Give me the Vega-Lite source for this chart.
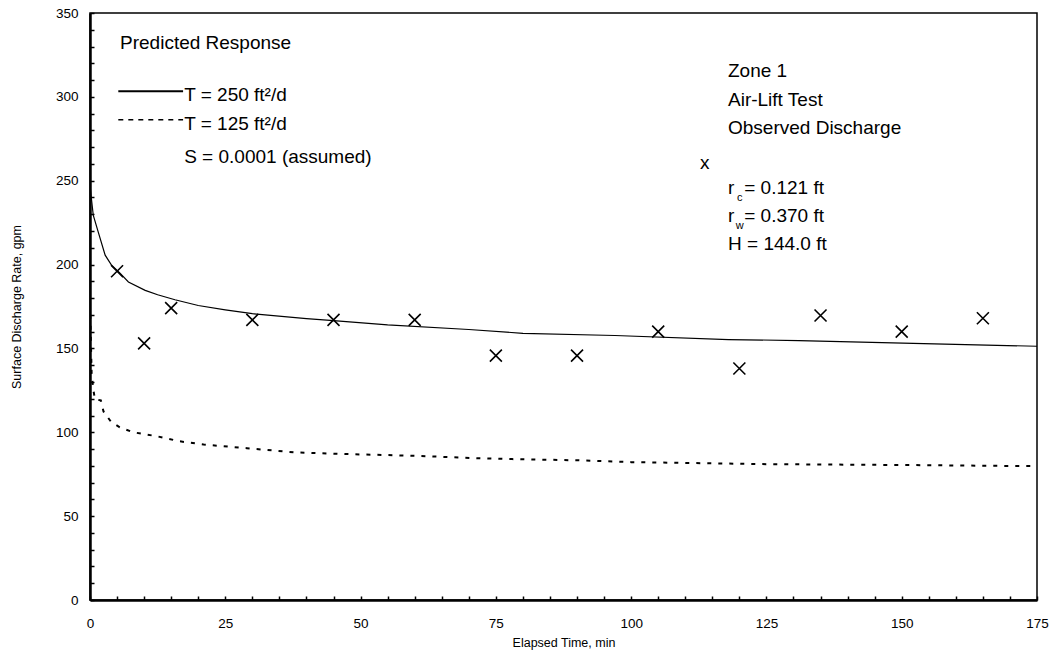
{
  "$schema": "https://vega.github.io/schema/vega-lite/v6.json",
  "width": 947,
  "height": 587,
  "autosize": "none",
  "padding": {"left": 90, "top": 13, "right": 14, "bottom": 63},
  "background": "white",
  "config": {
    "font": "Liberation Sans",
    "view": {"stroke": "black", "strokeWidth": 1.5},
    "axis": {"grid": false, "domainColor": "black", "domainWidth": 2.5, "tickColor": "black", "tickWidth": 1.5, "labelColor": "black", "titleColor": "black", "labelFont": "Liberation Sans", "titleFont": "Liberation Sans", "titleFontWeight": "normal"}
  },
  "datasets": {
    "t250": [
      {"t": 0.05, "q": 246}, {"t": 0.2, "q": 241}, {"t": 0.6, "q": 229.5}, {"t": 1.5, "q": 219.6},
      {"t": 2.8, "q": 205.6}, {"t": 4, "q": 199.6}, {"t": 5.5, "q": 195}, {"t": 7.1, "q": 189.6},
      {"t": 10.2, "q": 184.6}, {"t": 12.5, "q": 182}, {"t": 15.7, "q": 179}, {"t": 20, "q": 175.6},
      {"t": 25, "q": 173}, {"t": 30, "q": 170.7}, {"t": 40, "q": 167.8}, {"t": 45, "q": 166.6},
      {"t": 55, "q": 164}, {"t": 70, "q": 161.3}, {"t": 80, "q": 159}, {"t": 97, "q": 157.7},
      {"t": 118, "q": 155.3}, {"t": 131, "q": 154.7}, {"t": 156, "q": 152.7}, {"t": 175, "q": 151.3}
    ],
    "t125": [
      {"t": 0.05, "q": 170}, {"t": 0.3, "q": 135}, {"t": 0.6, "q": 125.7}, {"t": 0.9, "q": 119.8},
      {"t": 2, "q": 119}, {"t": 2.5, "q": 112.4}, {"t": 3.9, "q": 106.2}, {"t": 5.5, "q": 103},
      {"t": 8, "q": 100}, {"t": 12.4, "q": 97.6}, {"t": 16.6, "q": 94.6}, {"t": 21, "q": 92.7},
      {"t": 29, "q": 90.5}, {"t": 38, "q": 88}, {"t": 47.5, "q": 87}, {"t": 60, "q": 86},
      {"t": 72, "q": 84.5}, {"t": 78, "q": 84}, {"t": 90, "q": 83.3}, {"t": 100, "q": 82.2},
      {"t": 115, "q": 81.5}, {"t": 125, "q": 81}, {"t": 150, "q": 80.5}, {"t": 175, "q": 79.8}
    ],
    "obs": [
      {"t": 5, "q": 196}, {"t": 10, "q": 153}, {"t": 15, "q": 174}, {"t": 30, "q": 167},
      {"t": 45, "q": 167}, {"t": 60, "q": 167}, {"t": 75, "q": 145.7}, {"t": 90, "q": 145.7},
      {"t": 105, "q": 160}, {"t": 120, "q": 138}, {"t": 135, "q": 169.6}, {"t": 150, "q": 160},
      {"t": 165, "q": 168}
    ],
    "labels": [
      {"t": 5.55, "q": 332.3, "label": "Predicted Response"},
      {"t": 17.4, "q": 301.2, "label": "T = 250 ft²/d"},
      {"t": 17.4, "q": 283.8, "label": "T = 125 ft²/d"},
      {"t": 17.4, "q": 264.1, "label": "S = 0.0001 (assumed)"},
      {"t": 117.9, "q": 315.6, "label": "Zone 1"},
      {"t": 117.9, "q": 298.4, "label": "Air-Lift Test"},
      {"t": 117.9, "q": 281.4, "label": "Observed Discharge"},
      {"t": 117.9, "q": 245.5, "label": "r"},
      {"t": 120.9, "q": 245.5, "label": "= 0.121 ft"},
      {"t": 117.9, "q": 228.7, "label": "r"},
      {"t": 120.9, "q": 228.7, "label": "= 0.370 ft"},
      {"t": 117.9, "q": 212, "label": "H = 144.0 ft"}
    ],
    "subs": [
      {"t": 120.05, "q": 239.5, "label": "c"},
      {"t": 120.05, "q": 222.8, "label": "w"}
    ],
    "xmark": [
      {"t": 113.6, "q": 260.5, "label": "x"}
    ],
    "legsolid": [{"t": 5.23, "t2": 17.2, "q": 303.4}],
    "legdash": [{"t": 5.23, "t2": 17.2, "q": 286.4}]
  },
  "encoding": {
    "x": {"field": "t", "type": "quantitative", "scale": {"domain": [0, 175], "nice": false},
      "axis": {"title": "Elapsed Time, min", "titleFontSize": 12.5, "titlePadding": 7, "values": [0,5,10,15,20,25,30,35,40,45,50,55,60,65,70,75,80,85,90,95,100,105,110,115,120,125,130,135,140,145,150,155,160,165,170,175],
        "labelExpr": "datum.value % 25 === 0 ? datum.label : ''", "tickSize": -4, "labelPadding": 20, "labelFontSize": 13.5, "labelFlush": false, "labelOverlap": false}},
    "y": {"field": "q", "type": "quantitative", "scale": {"domain": [0, 350], "nice": false},
      "axis": {"title": "Surface Discharge Rate, gpm", "titleFontSize": 12.5, "titlePadding": 32, "values": [0,10,20,30,40,50,60,70,80,90,100,110,120,130,140,150,160,170,180,190,200,210,220,230,240,250,260,270,280,290,300,310,320,330,340,350],
        "labelExpr": "datum.value % 50 === 0 ? datum.label : ''", "tickSize": -4, "labelPadding": 16, "labelFontSize": 13.5, "labelOverlap": false}}
  },
  "layer": [
    {
      "data": {"name": "t250"},
      "mark": {"type": "line", "color": "black", "strokeWidth": 1.2, "clip": true}
    },
    {
      "data": {"name": "t125"},
      "mark": {"type": "line", "color": "black", "strokeWidth": 2, "strokeDash": [4, 7], "clip": true}
    },
    {
      "data": {"name": "obs"},
      "mark": {"type": "point", "shape": "M-1,-1L1,1M-1,1L1,-1", "size": 144, "filled": false, "stroke": "black", "strokeWidth": 1.6, "opacity": 1}
    },
    {
      "data": {"name": "legsolid"},
      "mark": {"type": "rule", "color": "black", "strokeWidth": 2},
      "encoding": {"x2": {"field": "t2"}}
    },
    {
      "data": {"name": "legdash"},
      "mark": {"type": "rule", "color": "black", "strokeWidth": 1.5, "strokeDash": [5, 5]},
      "encoding": {"x2": {"field": "t2"}}
    },
    {
      "data": {"name": "labels"},
      "mark": {"type": "text", "align": "left", "baseline": "middle", "fontSize": 19, "color": "black"},
      "encoding": {"text": {"field": "label"}}
    },
    {
      "data": {"name": "subs"},
      "mark": {"type": "text", "align": "center", "baseline": "middle", "fontSize": 11, "color": "black"},
      "encoding": {"text": {"field": "label"}}
    },
    {
      "data": {"name": "xmark"},
      "mark": {"type": "text", "align": "center", "baseline": "middle", "fontSize": 19, "color": "black"},
      "encoding": {"text": {"field": "label"}}
    }
  ]
}
